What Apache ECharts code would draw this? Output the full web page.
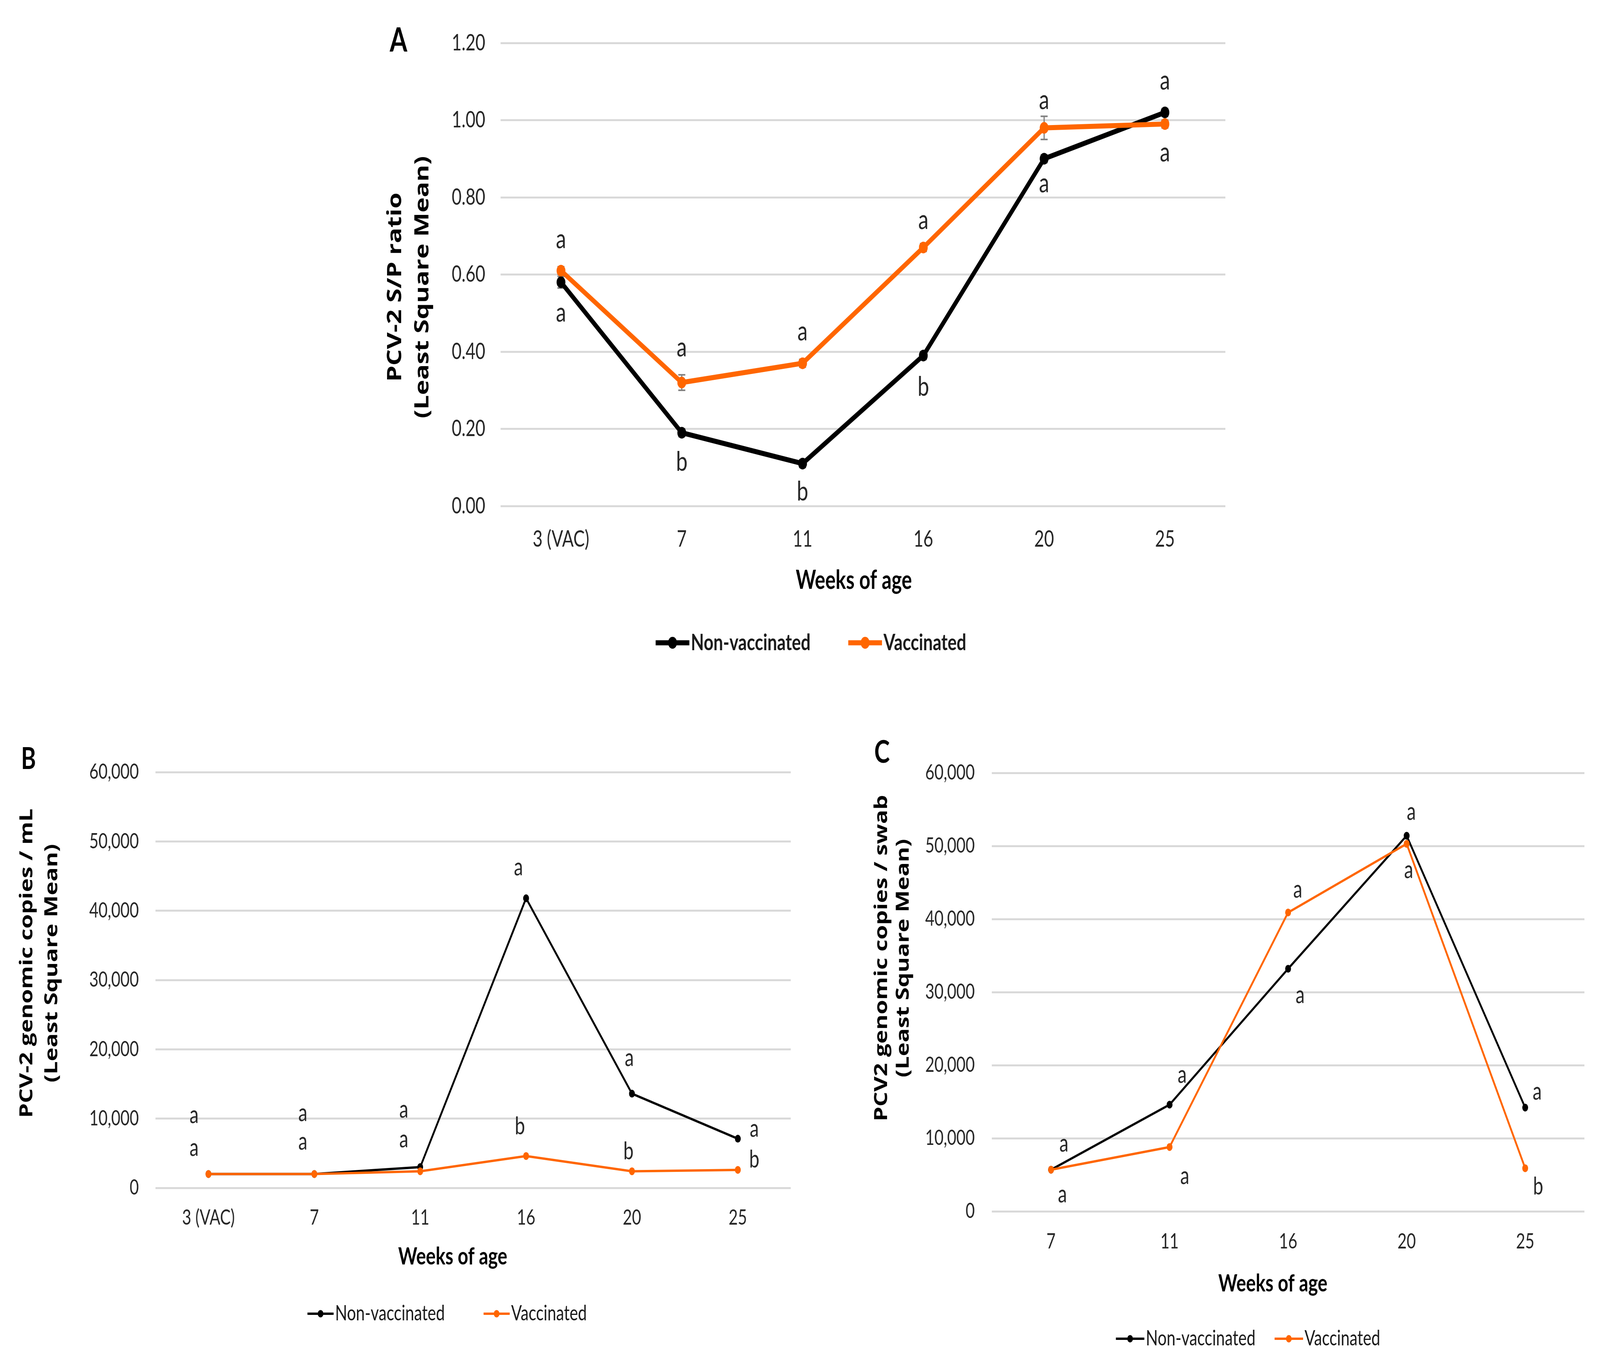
<!DOCTYPE html>
<html>
<head>
<meta charset="utf-8">
<script src="https://cdn.jsdelivr.net/npm/echarts@6/dist/echarts.min.js"></script>
<style>
  html, body { margin: 0; padding: 0; background: #fff; overflow: hidden; }
  #chart { width: 5453px; height: 3483px; transform-origin: 0 0; }
</style>
</head>
<body>
<div id="chart"></div>
<script>
// ---- data ----
const weeksAB = ["3 (VAC)", "7", "11", "16", "20", "25"];
const weeksC = ["7", "11", "16", "20", "25"];

// A: PCV-2 S/P ratio
const spNonVacc = [0.58, 0.19, 0.11, 0.39, 0.90, 1.02];
const spVacc = [0.61, 0.32, 0.37, 0.67, 0.98, 0.99];
const spNonVaccErr = [0.015, 0.01, 0.01, 0.01, 0.01, 0.01];
const spVaccErr = [0.01, 0.02, 0.01, 0.01, 0.03, 0.01];
const spNonVaccLetters = ["a", "b", "b", "b", "a", "a"];
const spVaccLetters = ["a", "a", "a", "a", "a", "a"];

// B: genomic copies / mL serum
const serumNonVacc = [2000, 2000, 3000, 41800, 13600, 7100];
const serumVacc = [2000, 2000, 2400, 4600, 2400, 2600];
const serumNonVaccLetters = ["a", "a", "a", "a", "a", "a"];
const serumVaccLetters = ["a", "a", "a", "b", "b", "b"];

// C: genomic copies / swab
const swabNonVacc = [5700, 14600, 33200, 51400, 14200];
const swabVacc = [5700, 8800, 40900, 50300, 5900];
const swabNonVaccLetters = ["a", "a", "a", "a", "a"];
const swabVaccLetters = ["a", "a", "a", "a", "b"];

// ---- layout ----
const PAGE_W = 5453;
const PAGE_H = 3483;
const BLACK = "#000000";
const ORANGE = "#ff6600";
const GRIDLINE = "#d9d9d9";
const TICK = "#262626";
const FONT = "Lato";

// letter label offsets from each point, in px
const offA = {
  non: [[0, 78], [0, 75], [0, 72], [0, 81], [0, 63], [0, -81]],
  vac: [[0, -80], [0, -90], [0, -81], [0, -70], [0, -71], [0, 73]]
};
const offB = {
  non: [[-49, -151], [-39, -156], [-56, -147], [-26, -79], [-9, -91], [56, -25]],
  vac: [[-49, -67], [-39, -83], [-56, -81], [-21, -75], [-12, -50], [56, -26]]
};
const offC = {
  non: [[44, -66], [43, -76], [41, 68], [16, -61], [41, -40]],
  vac: [[39, 64], [52, 75], [33, -58], [7, 68], [44, 47]]
};

// the window may be smaller than the page: fit the drawing into it
const box = document.getElementById("chart");
const sx = Math.min(1, window.innerWidth / PAGE_W);
const sy = Math.min(1, window.innerHeight / PAGE_H);
box.style.transform = "scale(" + sx + "," + sy + ")";

const chart = echarts.init(box, null, { renderer: "canvas" });

function xAxisFor(gridIndex, cats, fontSize, margin) {
  return {
    type: "category",
    gridIndex,
    data: cats,
    axisLine: { show: false },
    axisTick: { show: false },
    axisLabel: { color: TICK, fontFamily: FONT, fontSize, margin }
  };
}

function yAxisFor(gridIndex, max, interval, fontSize, margin, fmt) {
  return {
    type: "value",
    gridIndex,
    min: 0,
    max,
    interval,
    axisLine: { show: false },
    axisTick: { show: false },
    splitLine: { lineStyle: { color: GRIDLINE, width: 5 } },
    axisLabel: { color: TICK, fontFamily: FONT, fontSize, margin, formatter: fmt }
  };
}

function lineSeries(name, idx, values, letters, offsets, color, lineWidth, symbolSize, fontSize, z) {
  return {
    name,
    type: "line",
    xAxisIndex: idx,
    yAxisIndex: idx,
    z,
    symbol: "circle",
    symbolSize,
    color,
    lineStyle: { color, width: lineWidth },
    itemStyle: { color },
    label: {
      show: true,
      position: "inside",
      align: "center",
      verticalAlign: "middle",
      color: TICK,
      fontFamily: FONT,
      fontSize,
      formatter: p => letters[p.dataIndex]
    },
    emphasis: { disabled: true },
    data: values.map((v, i) => ({ value: v, label: { offset: offsets[i] } }))
  };
}

function errorSeries(values, errs) {
  return {
    type: "custom",
    xAxisIndex: 0,
    yAxisIndex: 0,
    z: 1,
    silent: true,
    renderItem: (params, api) => {
      const x = api.value(0);
      const lo = api.coord([x, api.value(1)]);
      const hi = api.coord([x, api.value(2)]);
      const cap = 12;
      const style = { stroke: "#7f7f7f", lineWidth: 4 };
      return {
        type: "group",
        children: [
          { type: "line", shape: { x1: lo[0], y1: lo[1], x2: hi[0], y2: hi[1] }, style },
          { type: "line", shape: { x1: lo[0] - cap, y1: lo[1], x2: lo[0] + cap, y2: lo[1] }, style },
          { type: "line", shape: { x1: hi[0] - cap, y1: hi[1], x2: hi[0] + cap, y2: hi[1] }, style }
        ]
      };
    },
    data: values.map((v, i) => [i, v - errs[i], v + errs[i]])
  };
}

function label(text, x, y, fontSize) {
  return {
    type: "text",
    x, y,
    silent: true,
    style: {
      text,
      fill: "#000",
      font: "bold " + fontSize + "px " + FONT,
      textAlign: "center",
      textVerticalAlign: "middle"
    }
  };
}

function yName(text, x, y, fontSize, lineHeight) {
  return {
    type: "text",
    x, y,
    rotation: Math.PI / 2,
    silent: true,
    style: {
      text,
      fill: "#000",
      font: "bold " + fontSize + "px 'Open Sans'",
      lineHeight,
      textAlign: "center",
      textVerticalAlign: "middle"
    }
  };
}

const thousands = v => v.toLocaleString("en-US");

const option = {
  backgroundColor: "#ffffff",
  animation: false,
  grid: [
    { left: 1706, top: 110, width: 2470, height: 1185 },
    { left: 530, top: 1976, width: 2165, height: 1064 },
    { left: 3380, top: 1978, width: 2020, height: 1122 }
  ],
  xAxis: [
    xAxisFor(0, weeksAB, 58, 56),
    xAxisFor(1, weeksAB, 54, 50),
    xAxisFor(2, weeksC, 54, 51)
  ],
  yAxis: [
    yAxisFor(0, 1.2, 0.2, 58, 52, v => v.toFixed(2)),
    yAxisFor(1, 60000, 10000, 54, 57, thousands),
    yAxisFor(2, 60000, 10000, 54, 58, thousands)
  ],
  legend: [
    {
      left: 2223, top: 1611, orient: "horizontal",
      itemWidth: 115, itemHeight: 38, itemGap: 122,
      lineStyle: { width: 13 },
      textStyle: { color: "#1a1a1a", fontFamily: FONT, fontSize: 58, fontWeight: "bold" },
      data: ["Non-vaccinated", "Vaccinated"]
    },
    {
      left: 1040, top: 3330, orient: "horizontal",
      itemWidth: 89, itemHeight: 24, itemGap: 129,
      lineStyle: { width: 6 },
      textStyle: { color: "#1a1a1a", fontFamily: FONT, fontSize: 54 },
      data: ["Non-vaccinated", "Vaccinated"]
    },
    {
      left: 3795, top: 3394, orient: "horizontal",
      itemWidth: 97, itemHeight: 24, itemGap: 62,
      lineStyle: { width: 6 },
      textStyle: { color: "#1a1a1a", fontFamily: FONT, fontSize: 54 },
      data: ["Non-vaccinated", "Vaccinated"]
    }
  ],
  series: [
    errorSeries(spNonVacc, spNonVaccErr),
    errorSeries(spVacc, spVaccErr),
    lineSeries("Non-vaccinated", 0, spNonVacc, spNonVaccLetters, offA.non, BLACK, 13, 30, 70, 2),
    lineSeries("Vaccinated", 0, spVacc, spVaccLetters, offA.vac, ORANGE, 13, 30, 70, 3),
    lineSeries("Non-vaccinated", 1, serumNonVacc, serumNonVaccLetters, offB.non, BLACK, 6, 20, 62, 2),
    lineSeries("Vaccinated", 1, serumVacc, serumVaccLetters, offB.vac, ORANGE, 6, 20, 62, 3),
    lineSeries("Non-vaccinated", 2, swabNonVacc, swabNonVaccLetters, offC.non, BLACK, 6, 20, 62, 2),
    lineSeries("Vaccinated", 2, swabVacc, swabVaccLetters, offC.vac, ORANGE, 6, 20, 62, 3)
  ],
  graphic: [
    label("A", 1358, 104, 86),
    label("B", 97, 1943, 77),
    label("C", 3006, 1926, 80),
    label("Weeks of age", 2910, 1486, 66),
    label("Weeks of age", 1543, 3216, 62),
    label("Weeks of age", 4338, 3285, 62),
    yName("PCV-2 S/P ratio\n(Least Square Mean)", 1395, 735, 66, 93),
    yName("PCV-2 genomic copies / mL\n(Least Square Mean)", 135, 2465, 60, 85),
    yName("PCV2 genomic copies / swab\n(Least Square Mean)", 3043, 2452, 60, 74)
  ]
};

chart.setOption(option);
</script>
</body>
</html>
